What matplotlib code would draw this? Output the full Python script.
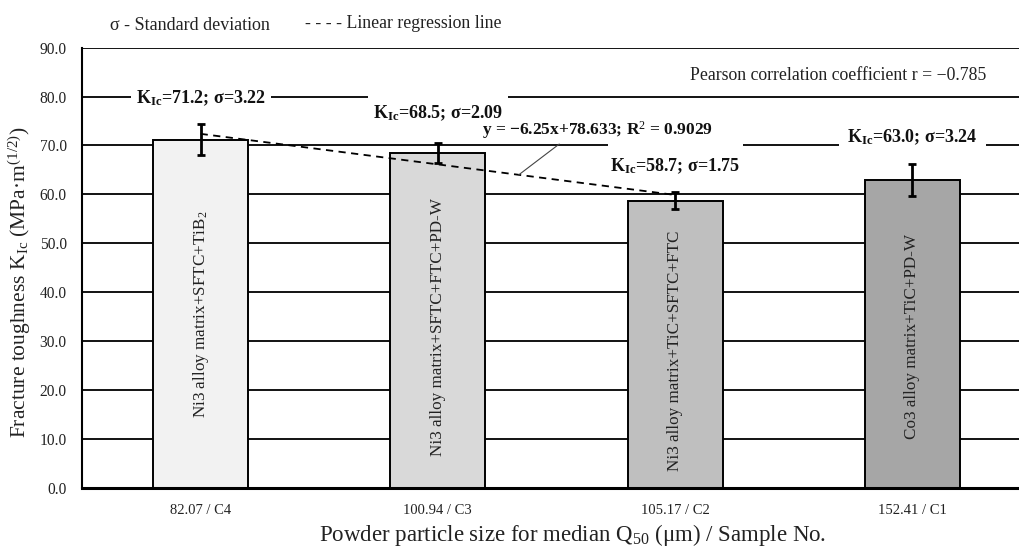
import matplotlib
matplotlib.use("Agg")
import matplotlib.pyplot as plt
from matplotlib.patches import Rectangle

plt.rcParams['font.family'] = ['Liberation Serif', 'DejaVu Serif']
plt.rcParams['mathtext.fontset'] = 'custom'
plt.rcParams['mathtext.rm'] = 'Liberation Serif'
plt.rcParams['mathtext.it'] = 'Liberation Serif:italic'
plt.rcParams['mathtext.bf'] = 'Liberation Serif:bold'

# ---- data ----
tick_labels = ["82.07 / C4", "100.94 / C3", "105.17 / C2", "152.41 / C1"]
kic_values = [71.2, 68.5, 58.7, 63.0]
sigma_values = [3.22, 2.09, 1.75, 3.24]
bar_names = ["Ni3 alloy matrix+SFTC+TiB$_2$",
             "Ni3 alloy matrix+SFTC+FTC+PD-W",
             "Ni3 alloy matrix+TiC+SFTC+FTC",
             "Co3 alloy matrix+TiC+PD-W"]
bar_colors = ["#f2f2f2", "#d9d9d9", "#bfbfbf", "#a6a6a6"]
reg_x = [0, 1, 2]
reg_y = [72.38, 66.13, 59.88]
reg_text = "y = \u22126.25x+78.633; R$^2$ = 0.9029"
pearson_text = "Pearson correlation coefficient r = \u22120.785"

# ---- layout ----
fig = plt.figure(figsize=(10.2, 5.47), dpi=100)
ax = fig.add_axes([82/1020, 1-487.7/547, 949/1020, 440/547])
ax.set_xlim(-0.5, 3.5)
ax.set_ylim(0, 90)

yt = [i*10 for i in range(10)]
for y in yt[1:]:
    ax.axhline(y, color="black", lw=1.3, zorder=0)
ax.set_yticks(yt)
ax.set_yticklabels([f"{v:.1f}" for v in yt], fontsize=11.2, color="#222222")
ax.tick_params(axis="y", length=0, pad=11)
ax.tick_params(axis="x", length=0, pad=12, labelsize=10.5, colors="#222222")
for s in ["top", "right"]:
    ax.spines[s].set_visible(False)
ax.spines["left"].set_linewidth(1.5)
ax.spines["bottom"].set_linewidth(2.2)

x = list(range(len(kic_values)))
ax.bar(x, kic_values, width=0.40, color=bar_colors, edgecolor="black",
       linewidth=1.4, zorder=2)
ax.errorbar(x, kic_values, yerr=sigma_values, fmt="none", ecolor="black",
            elinewidth=2.0, capsize=3, capthick=2.0, zorder=4)
ax.set_xticks(x)
ax.set_xticklabels(tick_labels)

# names inside bars
name_y = [35.5, 32.8, 28.0, 31.0]
for xi, nm, ny in zip(x, bar_names, name_y):
    ax.text(xi, ny, nm, rotation=90, ha="center", va="center",
            fontsize=12.3, color="#222222", zorder=5)

# regression line
ax.plot(reg_x, reg_y, ls=(0, (4, 3)), color="black", lw=1.3, zorder=3)

# value labels with white boxes
lab_pos = [(0.0, 79.7, 81.8, 77.2, 0.59),
           (1.0, 76.6, 80.8, 73.6, 0.59),
           (2.0, 65.8, 71.2, 61.9, 0.57),
           (3.0, 71.7, 74.2, 69.1, 0.62)]
for (lx, ly, top, bot, w), k, s in zip(lab_pos, kic_values, sigma_values):
    ax.add_patch(Rectangle((lx - w/2, bot), w, top - bot, facecolor="white",
                           edgecolor="none", zorder=1))
    ax.text(lx, ly, r"$\mathbf{K_{Ic}}$" + f"={k:.1f}; \u03c3={s:.2f}",
            ha="center", va="center", fontsize=13, fontweight="bold",
            color="#111111", zorder=5)

# regression label with leader
ax.annotate(reg_text, xy=(1.34, 63.96), xytext=(1.673, 73.1),
            ha="center", va="center", fontsize=12.5, fontweight="bold",
            color="#111111", zorder=5,
            arrowprops=dict(arrowstyle="-", color="#444444", lw=0.8,
                            shrinkA=0, shrinkB=0, relpos=(0.35, 0.0)))

ax.text(3.31, 84.4, pearson_text, ha="right", va="center", fontsize=12.8,
        color="#222222", zorder=5)

fig.text(20/1020, 1-282/547,
         "Fracture toughness K$_{\\rm Ic}$ (MPa\u00b7m$^{(1/2)}$)",
         rotation=90, ha="center", va="center", fontsize=15.5, color="#222222")
fig.text(573/1020, 1-535/547,
         "Powder particle size for median Q$_{50}$ (\u03bcm) / Sample No.",
         ha="center", va="center", fontsize=16.5, color="#222222")

fig.text(110/1020, 1-25/547, "\u03c3 - Standard deviation", ha="left",
         va="center", fontsize=13, color="#222222")
fig.text(305/1020, 1-23/547, "- - - - Linear regression line", ha="left",
         va="center", fontsize=12.8, color="#222222")

fig.savefig("out.png", dpi=100)
